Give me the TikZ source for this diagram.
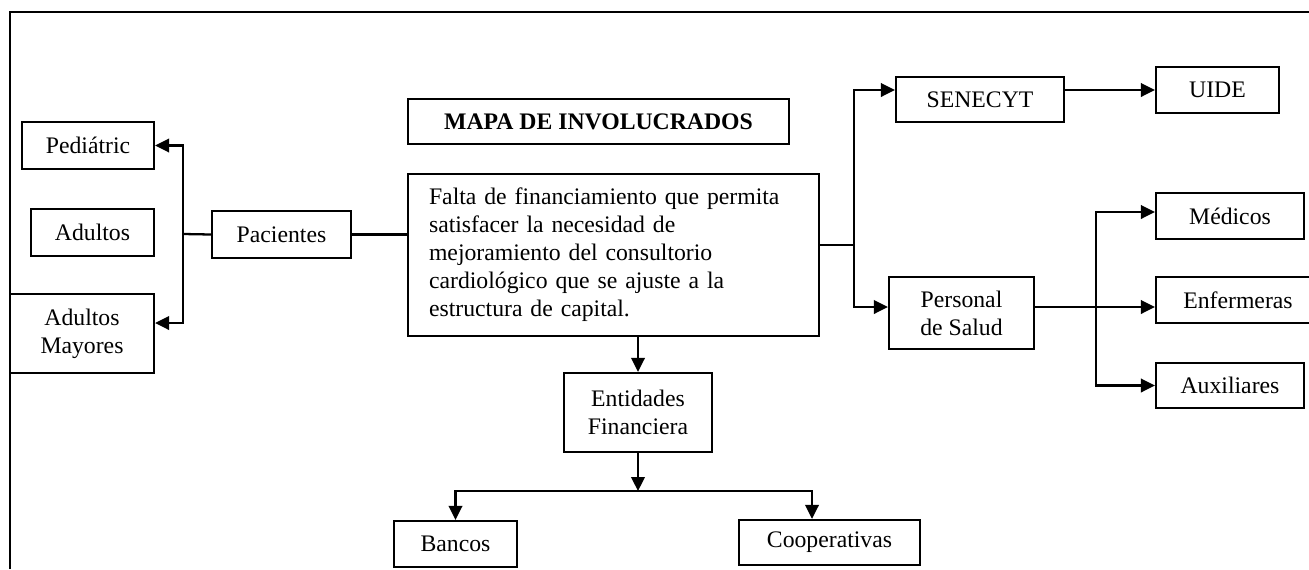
\documentclass[tikz,border=0pt]{standalone}
\usepackage{fontspec}
\setmainfont{Liberation Serif}
\usetikzlibrary{arrows.meta}

\begin{document}
\begin{tikzpicture}[x=0.02cm,y=-0.02cm,>/.tip={Triangle[length=0.28cm,width=0.27cm]},
	line width=1.3pt,font=\fontsize{13.5}{15.9}\selectfont,
	caja/.style={draw,inner sep=0pt,align=center}]
	\useasboundingbox (0,0) rectangle (1309,569);
	\clip (0,0) rectangle (1309,569);
	\draw (10,569) -- (10,12) -- (1309,12);
	\draw (598.5,121.5) node (titulo) [caja,minimum width=7.62cm,minimum height=0.9cm] {\textbf{MAPA DE INVOLUCRADOS}};
	\draw (613.5,255) node (problema) [draw,inner xsep=0.42cm,inner ysep=0pt,text width=7.38cm,align=left,minimum height=3.24cm] {Falta de financiamiento que permita\\satisfacer la necesidad de\\mejoramiento del consultorio\\cardiológico que se ajuste a la\\estructura de capital.};
	\draw (88,145.5) node (pediatric) [caja,minimum width=2.64cm,minimum height=0.94cm] {Pediátric};
	\draw (92.5,232.5) node (adultos) [caja,minimum width=2.46cm,minimum height=0.94cm] {Adultos};
	\draw (82,333.5) node (mayores) [caja,minimum width=2.88cm,minimum height=1.58cm] {Adultos\\Mayores};
	\draw (281.5,234.5) node (pacientes) [caja,minimum width=2.78cm,minimum height=0.94cm] {Pacientes};
	\draw (980,99.5) node (senecyt) [caja,minimum width=3.36cm,minimum height=0.9cm] {SENECYT};
	\draw (1217.5,90) node (uide) [caja,minimum width=2.46cm,minimum height=0.92cm] {UIDE};
	\draw (961.5,313) node (personal) [caja,minimum width=2.9cm,minimum height=1.44cm] {Personal\\de Salud};
	\draw (1230,216) node (medicos) [caja,minimum width=2.96cm,minimum height=0.92cm] {Médicos};
	\draw (1238,300) node (enfermeras) [caja,minimum width=3.28cm,minimum height=0.92cm] {Enfermeras};
	\draw (1230,385.5) node (auxiliares) [caja,minimum width=2.96cm,minimum height=0.9cm] {Auxiliares};
	\draw (638,412.5) node (entidades) [caja,minimum width=2.96cm,minimum height=1.58cm] {Entidades\\Financiera};
	\draw (455.5,544) node (bancos) [caja,minimum width=2.46cm,minimum height=0.92cm] {Bancos};
	\draw (829.5,542.5) node (cooperativas) [caja,minimum width=3.62cm,minimum height=0.9cm] {Cooperativas};
	
	\coordinate (bp) at (183,234);
	\coordinate (bd) at (854,245);
	\coordinate (bs) at (1096,307);
	\coordinate (be) at (638,491);
	
	\draw (pacientes.west) -- (bp);
	\draw[->] (bp) |- (pediatric.east);
	\draw[->] (bp) |- ([yshift=0.21cm]mayores.east);
	\draw (pacientes.east) -- (pacientes.east -| problema.west);
	\draw (problema.east |- bd) -- (bd);
	\draw[->] (bd) |- (senecyt.west |- uide.west);
	\draw[->] (bd) |- ([yshift=0.12cm]personal.west);
	\draw[->] (senecyt.east |- uide.west) -- (uide.west);
	\draw (personal.east |- bs) -- (bs);
	\draw[->] (bs) |- ([yshift=0.08cm]medicos.west);
	\draw[->] (bs) -- (bs -| enfermeras.west);
	\draw[->] (bs) |- (auxiliares.west);
	\draw[->] (entidades.north |- problema.south) -- (entidades.north);
	\draw[->] (entidades.south) -- (be);
	\draw[->] (be) -| (bancos.north);
	\draw[->] (be) -| ([xshift=-0.35cm]cooperativas.north);
\end{tikzpicture}
\end{document}
